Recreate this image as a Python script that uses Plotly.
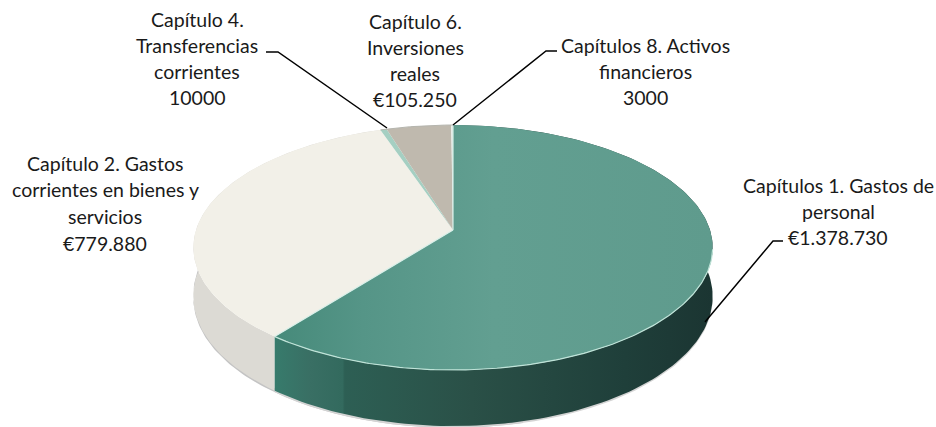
import numpy as np
import plotly.graph_objects as go

# ---- data ----
categories = ["Capítulos 1. Gastos de personal",
              "Capítulo 2. Gastos corrientes en bienes y servicios",
              "Capítulo 4. Transferencias corrientes",
              "Capítulo 6. Inversiones reales",
              "Capítulos 8. Activos financieros"]
values = [1378730, 779880, 10000, 105250, 3000]
label_lines = [["Capítulos 1. Gastos de", "personal", "€1.378.730"],
               ["Capítulo 2. Gastos", "corrientes en bienes y", "servicios", "€779.880"],
               ["Capítulo 4.", "Transferencias", "corrientes", "10000"],
               ["Capítulo 6.", "Inversiones", "reales", "€105.250"],
               ["Capítulos 8. Activos", "financieros", "3000"]]

# ---- styles / layout ----
top_colors = ["#639F91", "#F2F0E8", "#A5CFC2", "#BFB9AE", "#DDE8E2"]
label_pos = [(838, 185, 26), (105, 163, 26.7), (197, 19, 26), (415, 21, 26), (645, 45, 26)]
leaders = [[(783, 241), (773, 241), (705, 322)],
           [(266, 52), (278, 52), (387, 128)],
           [(557, 51), (546, 51), (453, 125)]]
CX, CY, A, B, K, D = 453, 230, 257, 120, 0.143, 48


def project(theta, depth=0.0):
    X, Y = np.sin(theta), -np.cos(theta)
    s = 1 / (1 - K * Y)
    return CX + A * X * s, CY + B * Y * s + depth * s


def arc(t0, t1, depth=0.0, n=160):
    return project(np.linspace(t0, t1, n), depth)


edges = np.concatenate([[0], np.cumsum(values)]) / np.sum(values) * 2 * np.pi
fig = go.Figure()


def poly(x, y, color=None, grad=None):
    kw = dict(fillgradient=grad) if grad else dict(fillcolor=color)
    fig.add_trace(go.Scatter(x=x, y=y, mode="lines", fill="toself", line=dict(width=0),
                             hoverinfo="skip", showlegend=False, **kw))


def band(t0, t1, depth0, depth1):
    x1, y1 = arc(t0, t1, depth0)
    x2, y2 = arc(t0, t1, depth1)
    return np.r_[x1, x2[::-1]], np.r_[y1, y2[::-1]]


# soft shadow below the disc
x, y = band(edges[1] - 0.9, edges[2] - 0.35, D - 2, D + 1.5)
poly(x, y, "#C4C4C4")
x, y = band(np.pi * 0.55, edges[1], D - 2, D + 1.5)
poly(x, y, "#D4D4D4")

# side walls
x, y = band(edges[1], edges[2], 0, D)
poly(x, y, "#DCDAD4")
x, y = band(0, edges[1], 0, D)
poly(x, y, grad=dict(type="horizontal", colorscale=[
    [0.0, "#377B6C"], [0.08, "#396F64"], [0.155, "#336A5E"], [0.16, "#2D5F54"],
    [0.45, "#2A5047"], [0.8, "#1F3F3A"], [1.0, "#1B3532"]]))

# top face
for i, c in enumerate(top_colors):
    ax, ay = arc(edges[i], edges[i + 1])
    x, y = np.r_[CX, ax, CX], np.r_[CY, ay, CY]
    if i == 0:
        poly(x, y, grad=dict(type="horizontal", colorscale=[
            [0.0, "#468A7A"], [0.2, "#559587"], [0.5, "#629F91"], [1.0, "#5F9B8D"]]))
    else:
        poly(x, y, c)

# light rim and boundaries
rx, ry = arc(np.pi * 0.55, edges[1])
fig.add_trace(go.Scatter(x=rx, y=ry, mode="lines", line=dict(color="#BFE3D8", width=1.2),
                         hoverinfo="skip", showlegend=False))
bx, by = project(np.array([edges[1]]))
fig.add_trace(go.Scatter(x=[CX, bx[0]], y=[CY, by[0]], mode="lines",
                         line=dict(color="#D8EFE8", width=1.2),
                         hoverinfo="skip", showlegend=False))
bx, by = project(np.array([0.0]))
fig.add_trace(go.Scatter(x=[CX, bx[0]], y=[CY, by[0]], mode="lines",
                         line=dict(color="#D8EFE8", width=1.2),
                         hoverinfo="skip", showlegend=False))
rx, ry = arc(edges[2], 2 * np.pi)
fig.add_trace(go.Scatter(x=rx, y=ry, mode="lines", line=dict(color="#B5B5AE", width=1),
                         hoverinfo="skip", showlegend=False))

# leader lines
for pts in leaders:
    fig.add_trace(go.Scatter(x=[p[0] for p in pts], y=[p[1] for p in pts], mode="lines",
                             line=dict(color="#000000", width=1.5),
                             hoverinfo="skip", showlegend=False))

# labels
for lines, (lx, ly, step) in zip(label_lines, label_pos):
    for j, t in enumerate(lines):
        fig.add_annotation(x=lx, y=ly + j * step, text=t, showarrow=False, xanchor="center",
                           yanchor="middle", font=dict(family="Lato", size=19.5, color="#1A1A1A"))

fig.update_xaxes(range=[0, 936], visible=False, fixedrange=True)
fig.update_yaxes(range=[427, 0], visible=False, fixedrange=True)
fig.update_layout(width=936, height=427, margin=dict(l=0, r=0, t=0, b=0),
                  paper_bgcolor="#FFFFFF", plot_bgcolor="#FFFFFF", showlegend=False)
fig.write_html("out.html", config=dict(displayModeBar=False),
               post_script="document.body.style.margin='0';")
